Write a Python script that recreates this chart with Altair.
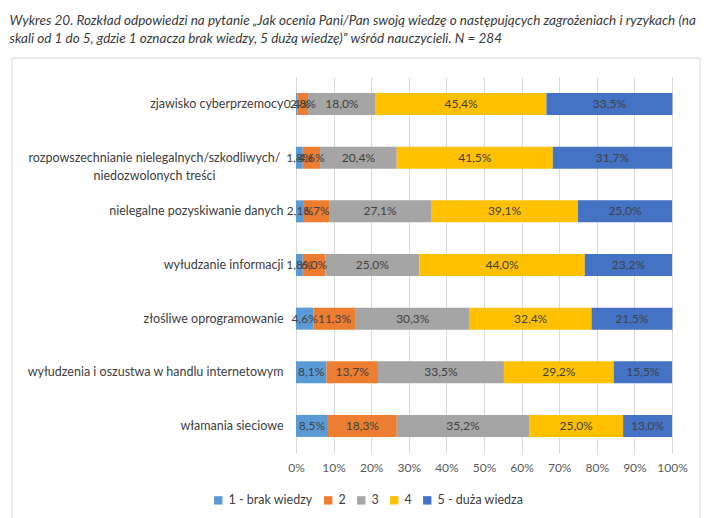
import altair as alt
import pandas as pd

categories = [
    "zjawisko cyberprzemocy",
    "rozpowszechnianie nielegalnych/szkodliwych/|niedozwolonych treści",
    "nielegalne pozyskiwanie danych",
    "wyłudzanie informacji",
    "złośliwe oprogramowanie",
    "wyłudzenia i oszustwa w handlu internetowym",
    "włamania sieciowe",
]
levels = ["1 - brak wiedzy", "2", "3", "4", "5 - duża wiedza"]
v1 = [0.4, 1.8, 2.1, 1.8, 4.6, 8.1, 8.5]
v2 = [2.8, 4.6, 6.7, 6.0, 11.3, 13.7, 18.3]
v3 = [18.0, 20.4, 27.1, 25.0, 30.3, 33.5, 35.2]
v4 = [45.4, 41.5, 39.1, 44.0, 32.4, 29.2, 25.0]
v5 = [33.5, 31.7, 25.0, 23.2, 21.5, 15.5, 13.0]
colors = ["#5B9BD5", "#ED7D31", "#A5A5A5", "#FFC000", "#4472C4"]
x_ticks = [0, 10, 20, 30, 40, 50, 60, 70, 80, 90, 100]

title_lines = [
    "Wykres 20. Rozkład odpowiedzi na pytanie „Jak ocenia Pani/Pan swoją wiedzę o  następujących zagrożeniach i  ryzykach (na",
    "skali od 1 do 5, gdzie 1 oznacza brak wiedzy, 5 dużą wiedzę)” wśród nauczycieli. N = 284",
]

rows = []
for series_i, vals in enumerate([v1, v2, v3, v4, v5]):
    for cat, v in zip(categories, vals):
        rows.append({"cat": cat, "level": levels[series_i], "order": series_i, "value": v})
df = pd.DataFrame(rows)

FONT = "Lato"
TXT = "#404040"
ML = "rozpowszechnianie nielegalnych/szkodliwych/|niedozwolonych treści"

base = alt.Chart(df).transform_stack(
    stack="value", groupby=["cat"], sort=[alt.SortField("order")], as_=["x0", "x1"]
).transform_calculate(
    mid="(datum.x0 + datum.x1) / 2",
    label="replace(format(datum.value, '.1f'), '.', ',') + '%'",
)

y_axis = alt.Axis(
    domain=False,
    ticks=False,
    grid=False,
    labelFont=FONT,
    labelFontSize=12.5,
    labelColor=TXT,
    labelLimit=320,
    labelExpr="split(datum.label, '|')",
    labelAlign=alt.expr(f"datum.value == '{ML}' ? 'center' : 'right'"),
    labelPadding=alt.expr(f"datum.value == '{ML}' ? 142 : 13"),
    labelLineHeight=18,
)
y_scale = alt.Scale(paddingInner=0.59, paddingOuter=0.3)

x_axis = alt.Axis(
    values=x_ticks,
    labelExpr="datum.value + '%'",
    labelOverlap=False,
    labelFlush=False,
    domain=False,
    ticks=False,
    grid=True,
    gridColor="#d9d9d9",
    gridWidth=1,
    labelFont=FONT,
    labelFontSize=12,
    labelColor="#595959",
    labelPadding=9,
)
x_scale = alt.Scale(domain=[0, 100], nice=False)

bars = base.mark_bar(size=22).encode(
    x=alt.X("x0:Q", scale=x_scale, title=None, axis=x_axis),
    x2="x1:Q",
    y=alt.Y("cat:N", sort=categories, title=None, scale=y_scale, axis=y_axis),
    color=alt.Color(
        "level:N",
        scale=alt.Scale(domain=levels, range=colors),
        legend=alt.Legend(
            title=None,
            orient="none",
            legendX=-84,
            legendY=417,
            direction="horizontal",
            columns=5,
            symbolType="square",
            symbolSize=70,
            symbolStrokeWidth=0,
            labelFont=FONT,
            labelFontSize=12.5,
            labelColor=TXT,
            columnPadding=9,
            labelOffset=4,
        ),
    ),
    order=alt.Order("order:Q"),
)

text = base.mark_text(font=FONT, fontSize=12, color=TXT).encode(
    x=alt.X("mid:Q", scale=x_scale, title=None, axis=x_axis),
    y=alt.Y("cat:N", sort=categories, title=None, scale=y_scale, axis=y_axis),
    text="label:N",
)

border = alt.Chart(pd.DataFrame({"a": [0]})).mark_rect(
    fill="transparent", stroke="#d9d9d9", strokeWidth=1
).encode(
    x=alt.value(-284), x2=alt.value(404), y=alt.value(-19), y2=alt.value(470)
)

chart = alt.layer(border, bars, text).properties(
    width=376,
    height=376,
    autosize=alt.AutoSizeParams(type="none"),
    padding={"left": 296, "top": 77, "right": 38, "bottom": 65},
    title=alt.TitleParams(
        text=title_lines,
        anchor="start",
        frame="bounds",
        font=FONT,
        fontSize=13.5,
        fontStyle="italic",
        fontWeight="normal",
        color="#3a3a3a",
        lineHeight=18,
        offset=12,
        dx=-2,
    ),
).configure_view(stroke=None)

chart.save("out.html", embed_options={"renderer": "svg", "actions": False})
